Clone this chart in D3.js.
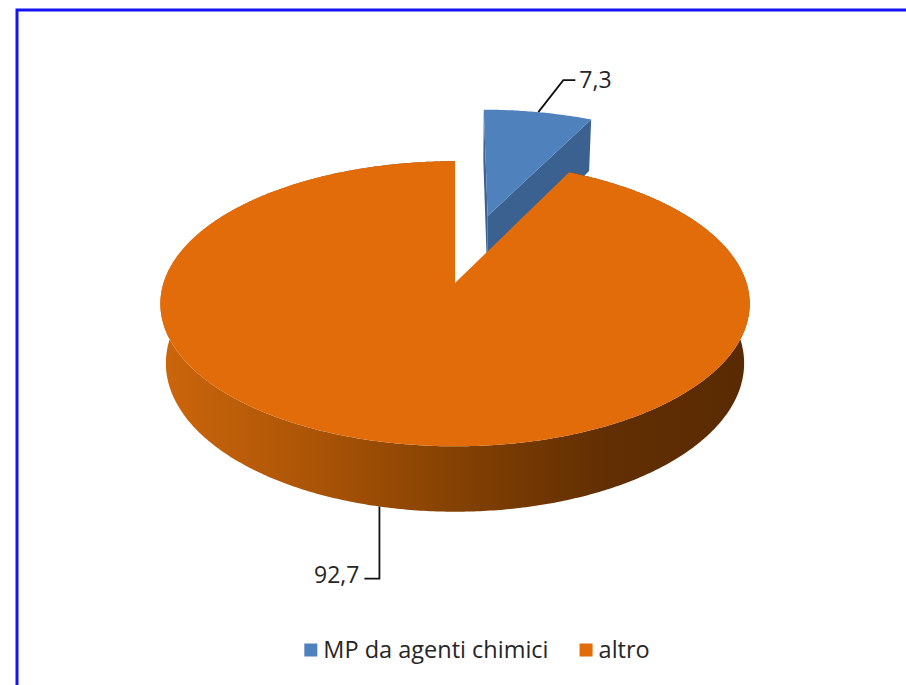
<!DOCTYPE html>
<html>
<head>
<meta charset="utf-8">
<script src="https://cdn.jsdelivr.net/npm/d3@7"></script>
<style>
  html, body { margin: 0; padding: 0; background: #fff; }
  svg { display: block; }
</style>
</head>
<body>
<svg id="chart" width="906" height="685"></svg>
<script>
// ---- data ----
const categories = ["MP da agenti chimici", "altro"];
const values = [7.3, 92.7];
const valueLabels = ["7,3", "92,7"];
const explodedIndex = [0];

// ---- styles ----
const topColors = ["#4f81bd", "#e36c0a"];
const sideColors = ["#3a6190", "#a8520a"];
const fontFamily = "'Open Sans', 'Noto Sans', sans-serif";

const W = 906, H = 685;
const svg = d3.select("#chart");

// frame
svg.append("rect")
  .attr("x", 17).attr("y", 10)
  .attr("width", W + 20).attr("height", H + 20)
  .attr("fill", "none")
  .attr("stroke", "#1414f5")
  .attr("stroke-width", 3);

// ---- 3D projection (perspective) ----
const cx = 455, cy = 283;
const dist = 6.03;           // camera distance in radii
const tilt = 28.6 * Math.PI / 180;
const sinP = Math.sin(tilt), cosP = Math.cos(tilt);
const focal = 291.5 * dist;  // pixel scale
const depthH = 0.235;        // pie thickness (radii)
const explode = 0.53;

function proj(x, y, z) {
  const depth = dist + y * cosP - z * sinP;
  const up = y * sinP + z * cosP;
  return [cx + focal * x / depth, cy - focal * up / depth];
}
function pt(a, r, z, off) {
  return proj(off[0] + r * Math.sin(a), off[1] + r * Math.cos(a), z);
}

const pie = d3.pie().sort(null).value(d => d)(values);
const line = d3.line();

function arcPoints(a0, a1, z, off) {
  const n = Math.max(8, Math.ceil(Math.abs(a1 - a0) / 0.01));
  return d3.range(n + 1).map(i => pt(a0 + (a1 - a0) * i / n, 1, z, off));
}

const defs = svg.append("defs");
const grad = defs.append("linearGradient")
  .attr("id", "wallGrad")
  .attr("gradientUnits", "userSpaceOnUse")
  .attr("x1", 160).attr("x2", 750).attr("y1", 0).attr("y2", 0);
grad.append("stop").attr("offset", 0).attr("stop-color", "#cc660c");
grad.append("stop").attr("offset", 0.25).attr("stop-color", "#ac5507");
grad.append("stop").attr("offset", 0.5).attr("stop-color", "#844103");
grad.append("stop").attr("offset", 0.75).attr("stop-color", "#622f03");
grad.append("stop").attr("offset", 1).attr("stop-color", "#592a02");

const gPie = svg.append("g");
const anchors = [];

const order = pie.map((d, i) => i).sort((a, b) => (explodedIndex.includes(a) ? -1 : 1) - (explodedIndex.includes(b) ? -1 : 1));

order.forEach(i => {
  const d = pie[i];
  const a0 = d.startAngle, a1 = d.endAngle, mid = (a0 + a1) / 2;
  const e = explodedIndex.includes(i) ? explode : 0;
  const off = [e * Math.sin(mid), e * Math.cos(mid)];
  const g = gPie.append("g");

  [[a0, -1], [a1, 1]].forEach(([a, sgn]) => {
    const nx = sgn * Math.cos(a), ny = -sgn * Math.sin(a);
    const camX = -off[0], camY = -dist * cosP - off[1];
    if (nx * camX + ny * camY > 0.01 && e > 0) {
      const poly = [
        proj(off[0], off[1], 0), pt(a, 1, 0, off),
        pt(a, 1, -depthH, off), proj(off[0], off[1], -depthH)
      ];
      g.append("path").attr("d", line(poly) + "Z")
        .attr("fill", sideColors[i]);
    }
  });

  if (e === 0) {
    const top = arcPoints(a0, a1, 0, off);
    const bot = arcPoints(a1, a0, -depthH, off);
    g.append("path").attr("d", line(top.concat(bot)) + "Z")
      .attr("fill", "url(#wallGrad)");
  }

  const topPoly = [proj(off[0], off[1], 0)].concat(arcPoints(a0, a1, 0, off));
  g.append("path").attr("d", line(topPoly) + "Z")
    .attr("fill", topColors[i]);

  anchors[i] = e > 0 ? pt(mid, 1, 0, off) : pt(mid, 1, -depthH, off);
});

// ---- data labels with leader lines ----
const gLab = svg.append("g")
  .attr("font-family", fontFamily).attr("font-size", 23).attr("fill", "#262626");

{
  const [x, y] = anchors[0];
  const p = [[x, y], [x + 25, y - 32], [x + 37, y - 32]];
  gLab.append("path").attr("d", line(p)).attr("fill", "none")
    .attr("stroke", "#111").attr("stroke-width", 1.8);
  gLab.append("text").attr("x", x + 41).attr("y", y - 24)
    .text(valueLabels[0]);
}
{
  const [x, y] = anchors[1];
  const p = [[x, y], [x, y + 72], [x - 15, y + 72]];
  gLab.append("path").attr("d", line(p)).attr("fill", "none")
    .attr("stroke", "#111").attr("stroke-width", 1.8);
  gLab.append("text").attr("x", x - 20).attr("y", y + 76)
    .attr("text-anchor", "end")
    .text(valueLabels[1]);
}

// ---- legend ----
const legend = svg.append("g")
  .attr("font-family", fontFamily).attr("font-size", 23.5).attr("fill", "#262626");
const sq = 13, gap = 6, itemGap = 31;
const items = categories.map((c, i) => {
  const g = legend.append("g");
  g.append("rect").attr("width", sq).attr("height", sq).attr("y", -sq / 2)
    .attr("fill", topColors[i]);
  const t = g.append("text").attr("x", sq + gap).attr("dy", "0.35em").text(c);
  return { g, w: sq + gap + t.node().getComputedTextLength() };
});
const total = d3.sum(items, d => d.w) + itemGap * (items.length - 1);
let lx = 477 - total / 2;
items.forEach(it => {
  it.g.attr("transform", `translate(${lx},650)`);
  lx += it.w + itemGap;
});
</script>
</body>
</html>
